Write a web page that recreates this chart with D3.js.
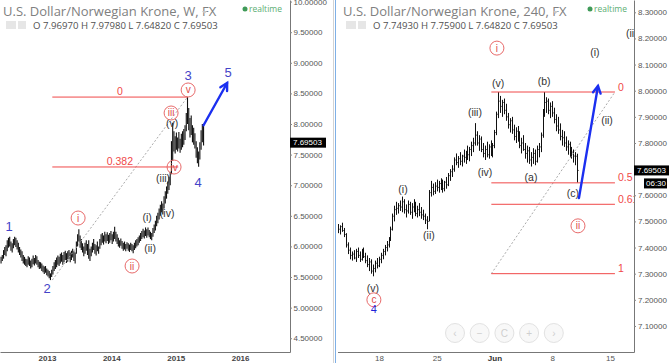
<!DOCTYPE html>
<html lang="en">
<head>
<meta charset="UTF-8">
<title>USD/NOK Elliott wave - weekly and 240</title>
<script src="https://cdn.jsdelivr.net/npm/d3@7"></script>
<style>
  body { margin: 0; background: #fff; }
  svg { display: block; font-family: "Liberation Sans", Arial, sans-serif; }
  .head { font-family: "Open Sans", sans-serif; }
</style>
</head>
<body>
<svg id="chart" width="670" height="363"></svg>
<script>
// ---------- weekly panel data (Apr 2012 - Jun 2015) ----------
const wStart = new Date(2012, 3, 16);
const wLow = [5.72,5.76,5.80,5.86,5.84,5.92,
  5.98,6.00,5.93,5.90,5.97,6.02,5.99,5.95,
  5.90,5.86,5.82,5.76,5.72,5.70,
  5.68,5.66,5.70,5.68,5.64,5.66,5.71,5.69,5.72,5.70,5.66,5.63,
  5.64,5.60,5.58,5.55,5.57,5.53,5.51,5.48,5.45,
  5.50,5.54,5.60,5.63,5.66,5.70,
  5.68,5.72,5.75,5.70,5.74,5.78,5.73,5.75,5.80,5.74,5.78,5.82,5.76,5.72,
  5.88,6.00,6.08,
  5.98,5.94,5.90,5.84,5.88,5.93,5.86,5.80,5.76,5.84,5.90,5.94,5.88,5.85,5.92,5.88,
  5.96,6.02,6.06,6.03,6.08,6.05,6.09,6.04,6.06,6.10,6.04,6.08,6.12,
  6.08,6.04,6.00,5.98,6.01,5.96,5.93,5.95,5.92,5.96,5.93,5.91,5.94,5.92,5.89,
  5.94,5.97,6.00,6.02,6.06,6.09,
  6.12,6.15,6.13,6.17,6.14,6.18,6.15,6.12,6.10,
  6.16,6.22,6.26,6.33,6.38,6.44,6.50,6.56,6.52,6.62,6.70,6.78,6.86,6.92,7.00,
  7.18,7.40,7.55,7.52,7.58,7.55,7.60,7.53,7.58,7.62,7.66,7.74,7.88,8.00,7.90,7.78,7.82,7.70,7.66,7.60,7.45,7.36,7.30,7.42,7.58,7.70,7.6482];
const wHigh = [5.83,5.86,5.94,5.99,6.02,6.10,
  6.14,6.16,6.08,6.05,6.12,6.16,6.14,6.10,
  6.06,5.99,5.95,5.92,5.86,5.83,
  5.80,5.79,5.84,5.82,5.77,5.80,5.85,5.81,5.86,5.84,5.78,5.75,
  5.74,5.72,5.69,5.67,5.68,5.64,5.62,5.60,5.56,
  5.62,5.68,5.74,5.78,5.82,5.85,
  5.83,5.88,5.90,5.86,5.91,5.93,5.89,5.92,5.94,5.90,5.93,5.96,5.92,5.90,
  6.08,6.20,6.28,
  6.18,6.12,6.05,6.00,6.06,6.10,6.04,6.10,5.96,6.00,6.06,6.12,6.04,6.02,6.08,6.00,
  6.12,6.20,6.22,6.18,6.24,6.20,6.23,6.19,6.22,6.25,6.20,6.24,6.32,
  6.24,6.20,6.14,6.10,6.13,6.09,6.06,6.08,6.04,6.07,6.05,6.03,6.06,6.04,6.02,
  6.06,6.10,6.12,6.15,6.18,6.22,
  6.25,6.29,6.26,6.31,6.28,6.31,6.27,6.24,6.22,
  6.30,6.36,6.42,6.50,6.55,6.62,6.68,6.74,6.70,6.82,6.90,6.98,7.06,7.14,7.22,
  7.72,8.02,7.88,7.80,7.86,7.78,7.87,7.76,7.84,7.88,7.92,7.98,8.18,8.44,8.26,8.10,8.14,7.98,7.94,7.85,7.72,7.62,7.55,7.70,7.90,8.00,7.9798];
const wYearTicks = [2013, 2014, 2015, 2016];
const wPriceTicks = [4.5, 5, 5.5, 6, 6.5, 7, 7.5, 8, 8.5, 9, 9.5, 10];
// wave labels: [week index, price, text]
const wMain = [[6.5, 6.33, "1"], [37.2, 5.32, "2"], [151.5, 8.80, "3"], [159.6, 7.05, "4"], [183.9, 8.85, "5"]];
const wCircled = [[62.4, 6.464, "i"], [106.1, 5.68, "ii"], [137.7, 8.18, "iii"], [140.1, 7.297, "iv"], [151.5, 8.556, "v"]];
const wMinor = [[118.3, 6.48, "(i)"], [120.7, 5.974, "(ii)"], [131.2, 7.118, "(iii)"], [134.5, 6.546, "(iv)"], [138.5, 8.016, "(v)"]];
const wFibFrom = [41.5, 5.45], wFibTo = [151, 8.44];
const wFibLevels = [[0, "0", 151], [0.382, "0.382", 143.5]];
const wArrow = [[164, 7.98], [183.1, 8.67]];

// ---------- 240 minute panel data (mid May - 10 Jun 2015) ----------
const hHigh = [7.49,7.485,7.495,7.475,7.455,7.42,
  7.40,7.385,7.39,7.395,7.40,7.385,7.395,7.40,7.38,7.37,
  7.36,7.355,7.335,7.35,7.36,
  7.365,7.38,7.395,7.41,7.425,7.44,
  7.48,7.53,7.56,
  7.575,7.57,7.58,7.595,7.585,7.565,7.58,7.575,7.57,7.585,7.575,7.56,7.57,7.555,7.545,7.53,7.52,
  7.62,7.655,7.645,7.65,
  7.66,7.655,7.665,7.66,7.655,7.67,7.685,
  7.70,7.715,
  7.745,7.76,7.75,7.765,7.755,7.775,7.77,7.79,7.785,7.805,7.82,
  7.876,
  7.845,7.83,7.825,7.80,7.79,7.805,7.795,7.81,7.80,7.85,
  7.92,7.995,
  7.98,7.965,7.97,7.95,
  7.915,7.895,7.90,7.87,7.86,7.865,7.845,7.82,7.83,7.80,7.79,
  7.785,7.765,7.78,7.775,7.79,7.80,7.84,
  7.93,7.995,
  7.975,7.97,7.955,7.96,7.935,7.91,
  7.90,7.875,7.85,7.845,7.825,7.81,7.805,7.785,7.775,7.765,7.759];
const hLow = [7.455,7.45,7.46,7.44,7.40,7.375,
  7.355,7.35,7.355,7.345,7.36,7.345,7.35,7.36,7.34,7.325,
  7.31,7.30,7.29,7.305,7.32,
  7.325,7.34,7.355,7.37,7.385,7.40,
  7.425,7.465,7.50,
  7.525,7.53,7.54,7.535,7.53,7.515,7.53,7.525,7.51,7.535,7.52,7.515,7.52,7.51,7.505,7.49,7.47,
  7.50,7.595,7.60,7.605,
  7.615,7.61,7.62,7.61,7.615,7.625,7.635,
  7.655,7.67,
  7.69,7.715,7.705,7.715,7.71,7.725,7.72,7.735,7.73,7.75,7.765,
  7.79,
  7.79,7.77,7.765,7.745,7.735,7.745,7.74,7.75,7.745,7.78,
  7.83,7.895,
  7.915,7.90,7.91,7.885,
  7.855,7.84,7.835,7.81,7.80,7.805,7.78,7.76,7.77,7.74,7.725,
  7.72,7.71,7.72,7.715,7.725,7.745,7.765,
  7.82,7.90,
  7.915,7.91,7.895,7.90,7.875,7.845,
  7.835,7.81,7.79,7.785,7.77,7.755,7.745,7.74,7.725,7.715,7.6482];
const hClose = [7.47,7.48,7.465,7.45,7.41,7.39,
  7.37,7.375,7.36,7.385,7.37,7.355,7.39,7.365,7.35,7.335,
  7.345,7.31,7.32,7.34,7.33,
  7.355,7.37,7.385,7.40,7.41,7.435,
  7.47,7.52,7.545,
  7.55,7.56,7.555,7.575,7.545,7.54,7.565,7.535,7.555,7.56,7.53,7.545,7.535,7.525,7.52,7.505,7.50,
  7.61,7.63,7.615,7.635,
  7.63,7.645,7.635,7.625,7.65,7.64,7.675,
  7.69,7.70,
  7.735,7.725,7.74,7.73,7.75,7.745,7.76,7.755,7.775,7.79,7.80,
  7.83,
  7.80,7.815,7.775,7.76,7.775,7.755,7.785,7.765,7.79,7.84,
  7.91,7.96,
  7.94,7.955,7.925,7.90,
  7.87,7.885,7.85,7.825,7.845,7.815,7.79,7.80,7.775,7.76,7.77,
  7.735,7.745,7.76,7.73,7.775,7.785,7.83,
  7.92,7.955,
  7.96,7.925,7.94,7.915,7.89,7.865,
  7.85,7.825,7.82,7.80,7.785,7.795,7.76,7.765,7.75,7.7493,7.69503];
const hDayTicks = [21, 51, 81, 111, 141];
const hDayLabels = ["18", "25", "Jun", "8", "15"];
const hPriceTicks = [7.1, 7.2, 7.3, 7.4, 7.5, 7.6, 7.7, 7.8, 7.9, 8.0, 8.1, 8.2, 8.3];
const hCircled = [[82.3, 8.163, "i"], [124.4, 7.483, "ii"], [18.4, 7.20, "c"]];
const hMinor = [[33.5, 7.624, "(i)"], [47, 7.448, "(ii)"], [70.9, 7.918, "(iii)"], [76.1, 7.689, "(iv)"],
  [82.9, 8.03, "(v)"], [100, 7.67, "(a)"], [106.8, 8.037, "(b)"], [121.8, 7.609, "(c)"],
  [133.2, 8.148, "(i)"], [139.5, 7.888, "(ii)"], [17.9, 7.245, "(v)"]];
const hMain = [[18.4, 7.165, "4"]];
const hFibFrom = [79.4, 7.30], hFibTo = [143.6, 7.995];
const hFibLevels = [[0, "0"], [0.5, "0.5"], [0.618, "0.618"], [1, "1"]];
const hArrow = [[124.9, 7.589], [134.8, 8.018]];

const svg = d3.select("#chart");
const RED = "#f04848", BLUE = "#1b2ff0", WAVE = "#4343c8";

const defs = svg.append("defs");
defs.append("clipPath").attr("id", "clipL").append("rect").attr("x", 0).attr("y", 0).attr("width", 290).attr("height", 352);
defs.append("clipPath").attr("id", "clipR").append("rect").attr("x", 337).attr("y", 0).attr("width", 297).attr("height", 352);

// ---------- scales ----------
const xW = d3.scaleTime().domain([new Date(2012, 3, 10), new Date(2016, 9, 10)]).range([0, 290]);
const wx = d3.scaleLinear().domain([0, 1]).range([xW(wStart), xW(d3.timeWeek.offset(wStart, 1))]);
const yW = d3.scaleLinear().domain([4.275, 10.026]).range([352, 0]);
const xH = d3.scaleLinear().domain([-0.5, 153.5]).range([337.5, 634]);
const yH = d3.scaleLinear().domain([7.0004, 8.347]).range([352, 0]);

// ---------- helpers ----------
function arrow(g, pts) {
  const [x1, y1] = pts[0], [x2, y2] = pts[1];
  const a = Math.atan2(y2 - y1, x2 - x1), len = 8, sp = 0.5;
  g.append("line").attr("x1", x1).attr("y1", y1).attr("x2", x2).attr("y2", y2)
    .attr("stroke", BLUE).attr("stroke-width", 2.4).attr("stroke-linecap", "round");
  g.append("path")
    .attr("d", `M${x2 - len * Math.cos(a - sp)},${y2 - len * Math.sin(a - sp)}L${x2},${y2}L${x2 - len * Math.cos(a + sp)},${y2 - len * Math.sin(a + sp)}`)
    .attr("fill", "none").attr("stroke", BLUE).attr("stroke-width", 2.4).attr("stroke-linecap", "round");
}
function circled(g, data, xs, ys, r) {
  const c = g.selectAll(null).data(data).join("g")
    .attr("transform", d => `translate(${xs(d[0])},${ys(d[1])})`);
  c.append("circle").attr("r", r).attr("fill", "none").attr("stroke", "#e86a6a").attr("stroke-width", 1);
  c.append("text").attr("text-anchor", "middle").attr("dy", "0.35em")
    .attr("font-size", 10).attr("fill", "#e04848").text(d => d[2]);
}
function labels(g, data, xs, ys, size, color) {
  g.selectAll(null).data(data).join("text")
    .attr("x", d => xs(d[0])).attr("y", d => ys(d[1])).attr("dy", "0.35em")
    .attr("text-anchor", "middle").attr("font-size", size).attr("fill", color).text(d => d[2]);
}
function styleAxis(g, size) {
  g.attr("font-size", size).attr("font-family", "'Liberation Sans', Arial, sans-serif");
  g.selectAll("text").attr("fill", "#555");
  g.selectAll("line").attr("stroke", "#888");
  g.select(".domain").attr("stroke", "#777");
}
function header(x, title, ohlc, rtX, dropX) {
  const h = svg.append("g").attr("class", "head");
  h.append("text").attr("x", x).attr("y", 16).attr("font-size", 13).attr("fill", "#808080").text(title);
  h.append("path").attr("d", `M${dropX},11L${dropX + 5},11L${dropX + 2.5},14Z`).attr("fill", "#c8c8c8");
  h.append("circle").attr("cx", rtX).attr("cy", 9).attr("r", 2.5).attr("fill", "#3f9a58");
  h.append("text").attr("x", rtX + 4).attr("y", 12).attr("font-size", 8.5).attr("fill", "#5cae73").text("realtime");
  h.append("rect").attr("x", x + 3).attr("y", 21).attr("width", 10).attr("height", 8).attr("fill", "#e6e6e6");
  h.append("rect").attr("x", x + 15).attr("y", 21).attr("width", 8).attr("height", 8).attr("fill", "#e6e6e6");
  h.append("text").attr("x", x + 30).attr("y", 28.5).attr("font-size", 9.6).attr("fill", "#505050").text(ohlc);
}

// ---------- left (weekly) panel ----------
const gL = svg.append("g").attr("clip-path", "url(#clipL)");
gL.selectAll("line.bar").data(wLow).join("line").attr("class", "bar")
  .attr("x1", (d, i) => wx(i)).attr("x2", (d, i) => wx(i))
  .attr("y1", d => yW(d)).attr("y2", (d, i) => yW(wHigh[i]))
  .attr("stroke", "#111").attr("stroke-width", 1.1);

gL.append("line")
  .attr("x1", wx(wFibFrom[0])).attr("y1", yW(wFibFrom[1]))
  .attr("x2", wx(wFibTo[0])).attr("y2", yW(wFibTo[1]))
  .attr("stroke", "#aaa").attr("stroke-dasharray", "2,2");
wFibLevels.forEach(([r, t, end]) => {
  const p = wFibTo[1] - r * (wFibTo[1] - wFibFrom[1]);
  gL.append("line").attr("x1", wx(wFibFrom[0])).attr("x2", wx(end))
    .attr("y1", yW(p)).attr("y2", yW(p)).attr("stroke", RED).attr("stroke-width", 1);
  gL.append("text").attr("x", wx((wFibFrom[0] + wFibTo[0]) / 2)).attr("y", yW(p) - 2)
    .attr("text-anchor", "middle").attr("font-size", 10.5).attr("fill", RED).text(t);
});
labels(gL, wMinor, wx, yW, 10.5, "#333");
circled(gL, wCircled, wx, yW, 7);
labels(gL, wMain, wx, yW, 13, WAVE);
arrow(gL, wArrow.map(d => [wx(d[0]), yW(d[1])]));

const axWY = svg.append("g").attr("transform", "translate(290,0)")
  .call(d3.axisRight(yW).tickValues(wPriceTicks).tickFormat(d3.format(".5f")).tickSize(2).tickPadding(1.5).tickSizeOuter(0));
styleAxis(axWY, 8);
const axWX = svg.append("g").attr("transform", "translate(0,352)")
  .call(d3.axisBottom(xW).tickValues(wYearTicks.map(y => new Date(y, 0, 1))).tickFormat(d3.timeFormat("%Y")).tickSize(0).tickPadding(3).tickSizeOuter(0));
styleAxis(axWX, 8);
axWX.selectAll("text").attr("font-weight", "bold").attr("fill", "#444");

const wLast = wHigh.length - 1;
const pbL = svg.append("g").attr("transform", `translate(290,${yW(7.69503)})`);
pbL.append("rect").attr("x", 0).attr("y", -5).attr("width", 36).attr("height", 10).attr("fill", "#000");
pbL.append("text").attr("x", 3).attr("y", 0).attr("dy", "0.35em").attr("font-size", 8).attr("fill", "#fff").text("7.69503");

// ---------- right (240) panel ----------
const gR = svg.append("g").attr("clip-path", "url(#clipR)");
const barR = gR.selectAll("g.bar").data(hHigh).join("g").attr("class", "bar");
barR.append("line")
  .attr("x1", (d, i) => Math.round(xH(i)) + 0.5).attr("x2", (d, i) => Math.round(xH(i)) + 0.5)
  .attr("y1", d => yH(d)).attr("y2", (d, i) => yH(hLow[i]))
  .attr("stroke", "#111").attr("stroke-width", 1);
barR.append("line")
  .attr("x1", (d, i) => Math.round(xH(i)) + 0.5).attr("x2", (d, i) => Math.round(xH(i)) + 1.6)
  .attr("y1", (d, i) => yH(hClose[i])).attr("y2", (d, i) => yH(hClose[i]))
  .attr("stroke", "#111").attr("stroke-width", 1);

gR.append("line")
  .attr("x1", xH(hFibFrom[0])).attr("y1", yH(hFibFrom[1]))
  .attr("x2", xH(hFibTo[0])).attr("y2", yH(hFibTo[1]))
  .attr("stroke", "#aaa").attr("stroke-dasharray", "2,2");
hFibLevels.forEach(([r, t]) => {
  const p = hFibTo[1] - r * (hFibTo[1] - hFibFrom[1]);
  gR.append("line").attr("x1", xH(hFibFrom[0])).attr("x2", xH(hFibTo[0]))
    .attr("y1", yH(p)).attr("y2", yH(p)).attr("stroke", RED).attr("stroke-width", 1);
  gR.append("text").attr("x", xH(hFibTo[0]) + 3).attr("y", yH(p) - 1.5)
    .attr("font-size", 10.5).attr("fill", RED).text(t);
});
labels(gR, hMinor, xH, yH, 10.5, "#333");
gR.append("text").attr("x", 626).attr("y", yH(8.22)).attr("dy", "0.35em")
  .attr("font-size", 10.5).attr("fill", "#333").text("(iii)");
circled(gR, hCircled, xH, yH, 7);
labels(gR, hMain, xH, yH, 11, "#1f1fd8");
arrow(gR, hArrow.map(d => [xH(d[0]), yH(d[1])]));

// navigation buttons
const nav = svg.append("g");
["\u2039", "\u2212", "C", "+", "\u203a"].forEach((s, k) => {
  const cx = 455 + k * 24.7;
  nav.append("circle").attr("cx", cx).attr("cy", 333).attr("r", 9.5)
    .attr("fill", "#f8f8f8").attr("stroke", "#e2e2e2");
  nav.append("text").attr("x", cx).attr("y", 333).attr("dy", "0.35em").attr("text-anchor", "middle")
    .attr("font-size", 10).attr("fill", "#cfcfcf").text(s);
});

const axHY = svg.append("g").attr("transform", "translate(634,0)")
  .call(d3.axisRight(yH).tickValues(hPriceTicks).tickFormat(d3.format(".5f")).tickSize(2).tickPadding(2).tickSizeOuter(0));
styleAxis(axHY, 8);
const axHX = svg.append("g").attr("transform", "translate(0,352)")
  .call(d3.axisBottom(xH).tickValues(hDayTicks).tickFormat((d, i) => hDayLabels[i]).tickSize(0).tickPadding(3).tickSizeOuter(0));
styleAxis(axHX, 8);
axHX.selectAll("text").filter((d, i) => hDayLabels[i] === "Jun").attr("font-weight", "bold").attr("fill", "#333");

const pbR = svg.append("g").attr("transform", `translate(634,${yH(7.69503)})`);
pbR.append("rect").attr("x", 0).attr("y", -5).attr("width", 35).attr("height", 10).attr("fill", "#000");
pbR.append("text").attr("x", 3).attr("y", 0).attr("dy", "0.35em").attr("font-size", 8).attr("fill", "#fff").text("7.69503");
pbR.append("rect").attr("x", 10).attr("y", 8).attr("width", 23).attr("height", 10).attr("fill", "#000");
pbR.append("text").attr("x", 12).attr("y", 13).attr("dy", "0.35em").attr("font-size", 8).attr("fill", "#fff").text("06:30");

// panel borders
svg.append("line").attr("x1", 333.5).attr("x2", 333.5).attr("y1", 0).attr("y2", 363).attr("stroke", "#d4d4d4");
svg.append("line").attr("x1", 335.5).attr("x2", 335.5).attr("y1", 0).attr("y2", 363).attr("stroke", "#7fb0e6");

header(3, "U.S. Dollar/Norwegian Krone, W, FX", "O 7.96970  H 7.97980  L 7.64820  C 7.69503", 245, 202);
header(343, "U.S. Dollar/Norwegian Krone, 240, FX", "O 7.74930  H 7.75900  L 7.64820  C 7.69503", 590, 553);
</script>
</body>
</html>
